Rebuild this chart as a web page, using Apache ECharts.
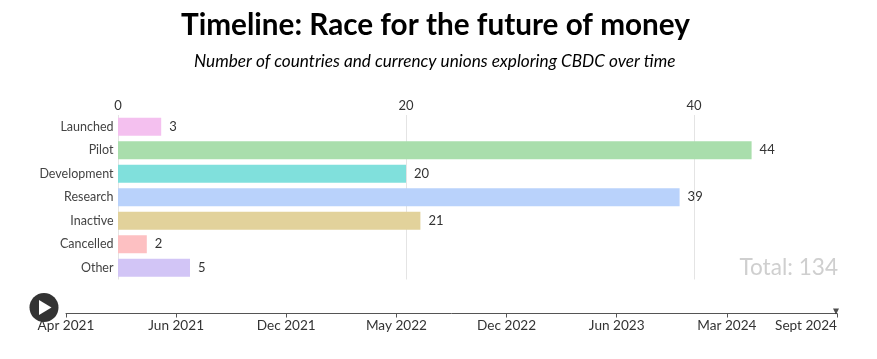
<!DOCTYPE html>
<html><head><meta charset="utf-8">
<style>html,body{margin:0;padding:0;background:#fff}#c{width:877px;height:359px}</style>
<script src="https://cdn.jsdelivr.net/npm/echarts@6/dist/echarts.min.js"></script>
</head><body><div id="c"></div>
<script>
const categories = ['Launched','Pilot','Development','Research','Inactive','Cancelled','Other'];
const values = [3,44,20,39,21,2,5];
const colors = ['#f4c0ef','#a9deac','#80e0dc','#b9d2fb','#e2d29b','#fdc0c2','#d2c5f6'];
const xTicks = [0,20,40];
const timelineLabels = ['Apr 2021','Jun 2021','Dec 2021','May 2022','Dec 2022','Jun 2023','Mar 2024','Sept 2024'];
const currentPeriod = 'Sept 2024';
const total = 134;
const F = 'Lato, "Open Sans", sans-serif';
const chart = echarts.init(document.getElementById('c'), null, {renderer:'canvas'});
chart.setOption({
  animation:false,
  backgroundColor:'#fff',
  title:[
    {text:'Timeline: Race for the future of money',left:181,top:10,padding:0,
     textStyle:{fontFamily:F,fontWeight:'bold',fontSize:29.7,color:'#000'}},
    {text:'Number of countries and currency unions exploring CBDC over time',left:194,top:53,padding:0,
     textStyle:{fontFamily:F,fontStyle:'italic',fontWeight:'normal',fontSize:17.2,color:'#000'}},
    {text:'Total: '+total,right:39,top:256,padding:0,
     textStyle:{fontFamily:F,fontWeight:'normal',fontSize:22.6,color:'#cfcfcf'}}
  ],
  grid:[
    {left:118,right:39,top:115,height:164.5,containLabel:false},
    {left:66,right:40,top:312.5,height:1,containLabel:false}
  ],
  xAxis:[
    {type:'value',gridIndex:0,position:'top',min:0,max:50,
     axisLine:{show:false},
     axisTick:{show:false,customValues:xTicks},
     axisLabel:{customValues:xTicks,margin:3,fontFamily:F,fontSize:13,color:'#333'},
     splitLine:{show:true,lineStyle:{color:'#e4e4e4',width:1}}},
    {type:'category',gridIndex:1,position:'bottom',boundaryGap:false,data:timelineLabels,
     axisLine:{show:true,onZero:false,lineStyle:{color:'#555',width:1}},
     axisTick:{show:true,inside:false,length:4,alignWithLabel:true,lineStyle:{color:'#555'}},
     axisLabel:{interval:0,margin:5,alignMaxLabel:'right',fontFamily:F,fontSize:13.6,color:'#333',showMinLabel:true,showMaxLabel:true},
     splitLine:{show:false}}
  ],
  yAxis:[
    {type:'category',gridIndex:0,inverse:true,data:categories,
     axisLine:{show:false},axisTick:{show:false},
     axisLabel:{margin:4.5,fontFamily:F,fontSize:12.5,color:'#444'},
     splitLine:{show:false}},
    {type:'value',gridIndex:1,min:0,max:1,show:false}
  ],
  series:[
    {type:'bar',xAxisIndex:0,yAxisIndex:0,barWidth:18,silent:true,
     data:values.map((v,i)=>({value:v,itemStyle:{color:colors[i]}})),
     label:{show:true,position:'right',distance:8,fontFamily:F,fontSize:13,color:'#333'}},
    {type:'scatter',xAxisIndex:1,yAxisIndex:1,silent:true,
     data:[[currentPeriod,0]],symbol:'triangle',symbolSize:[6,6],symbolRotate:180,symbolOffset:[-1,-2],
     itemStyle:{color:'#222'}}
  ],
  graphic:[
    {type:'circle',shape:{cx:44,cy:307.5,r:14.5},style:{fill:'#333'}},
    {type:'polygon',shape:{points:[[39,300],[39,315],[51.5,307.5]]},style:{fill:'#fff'}}
  ]
});
</script></body></html>
